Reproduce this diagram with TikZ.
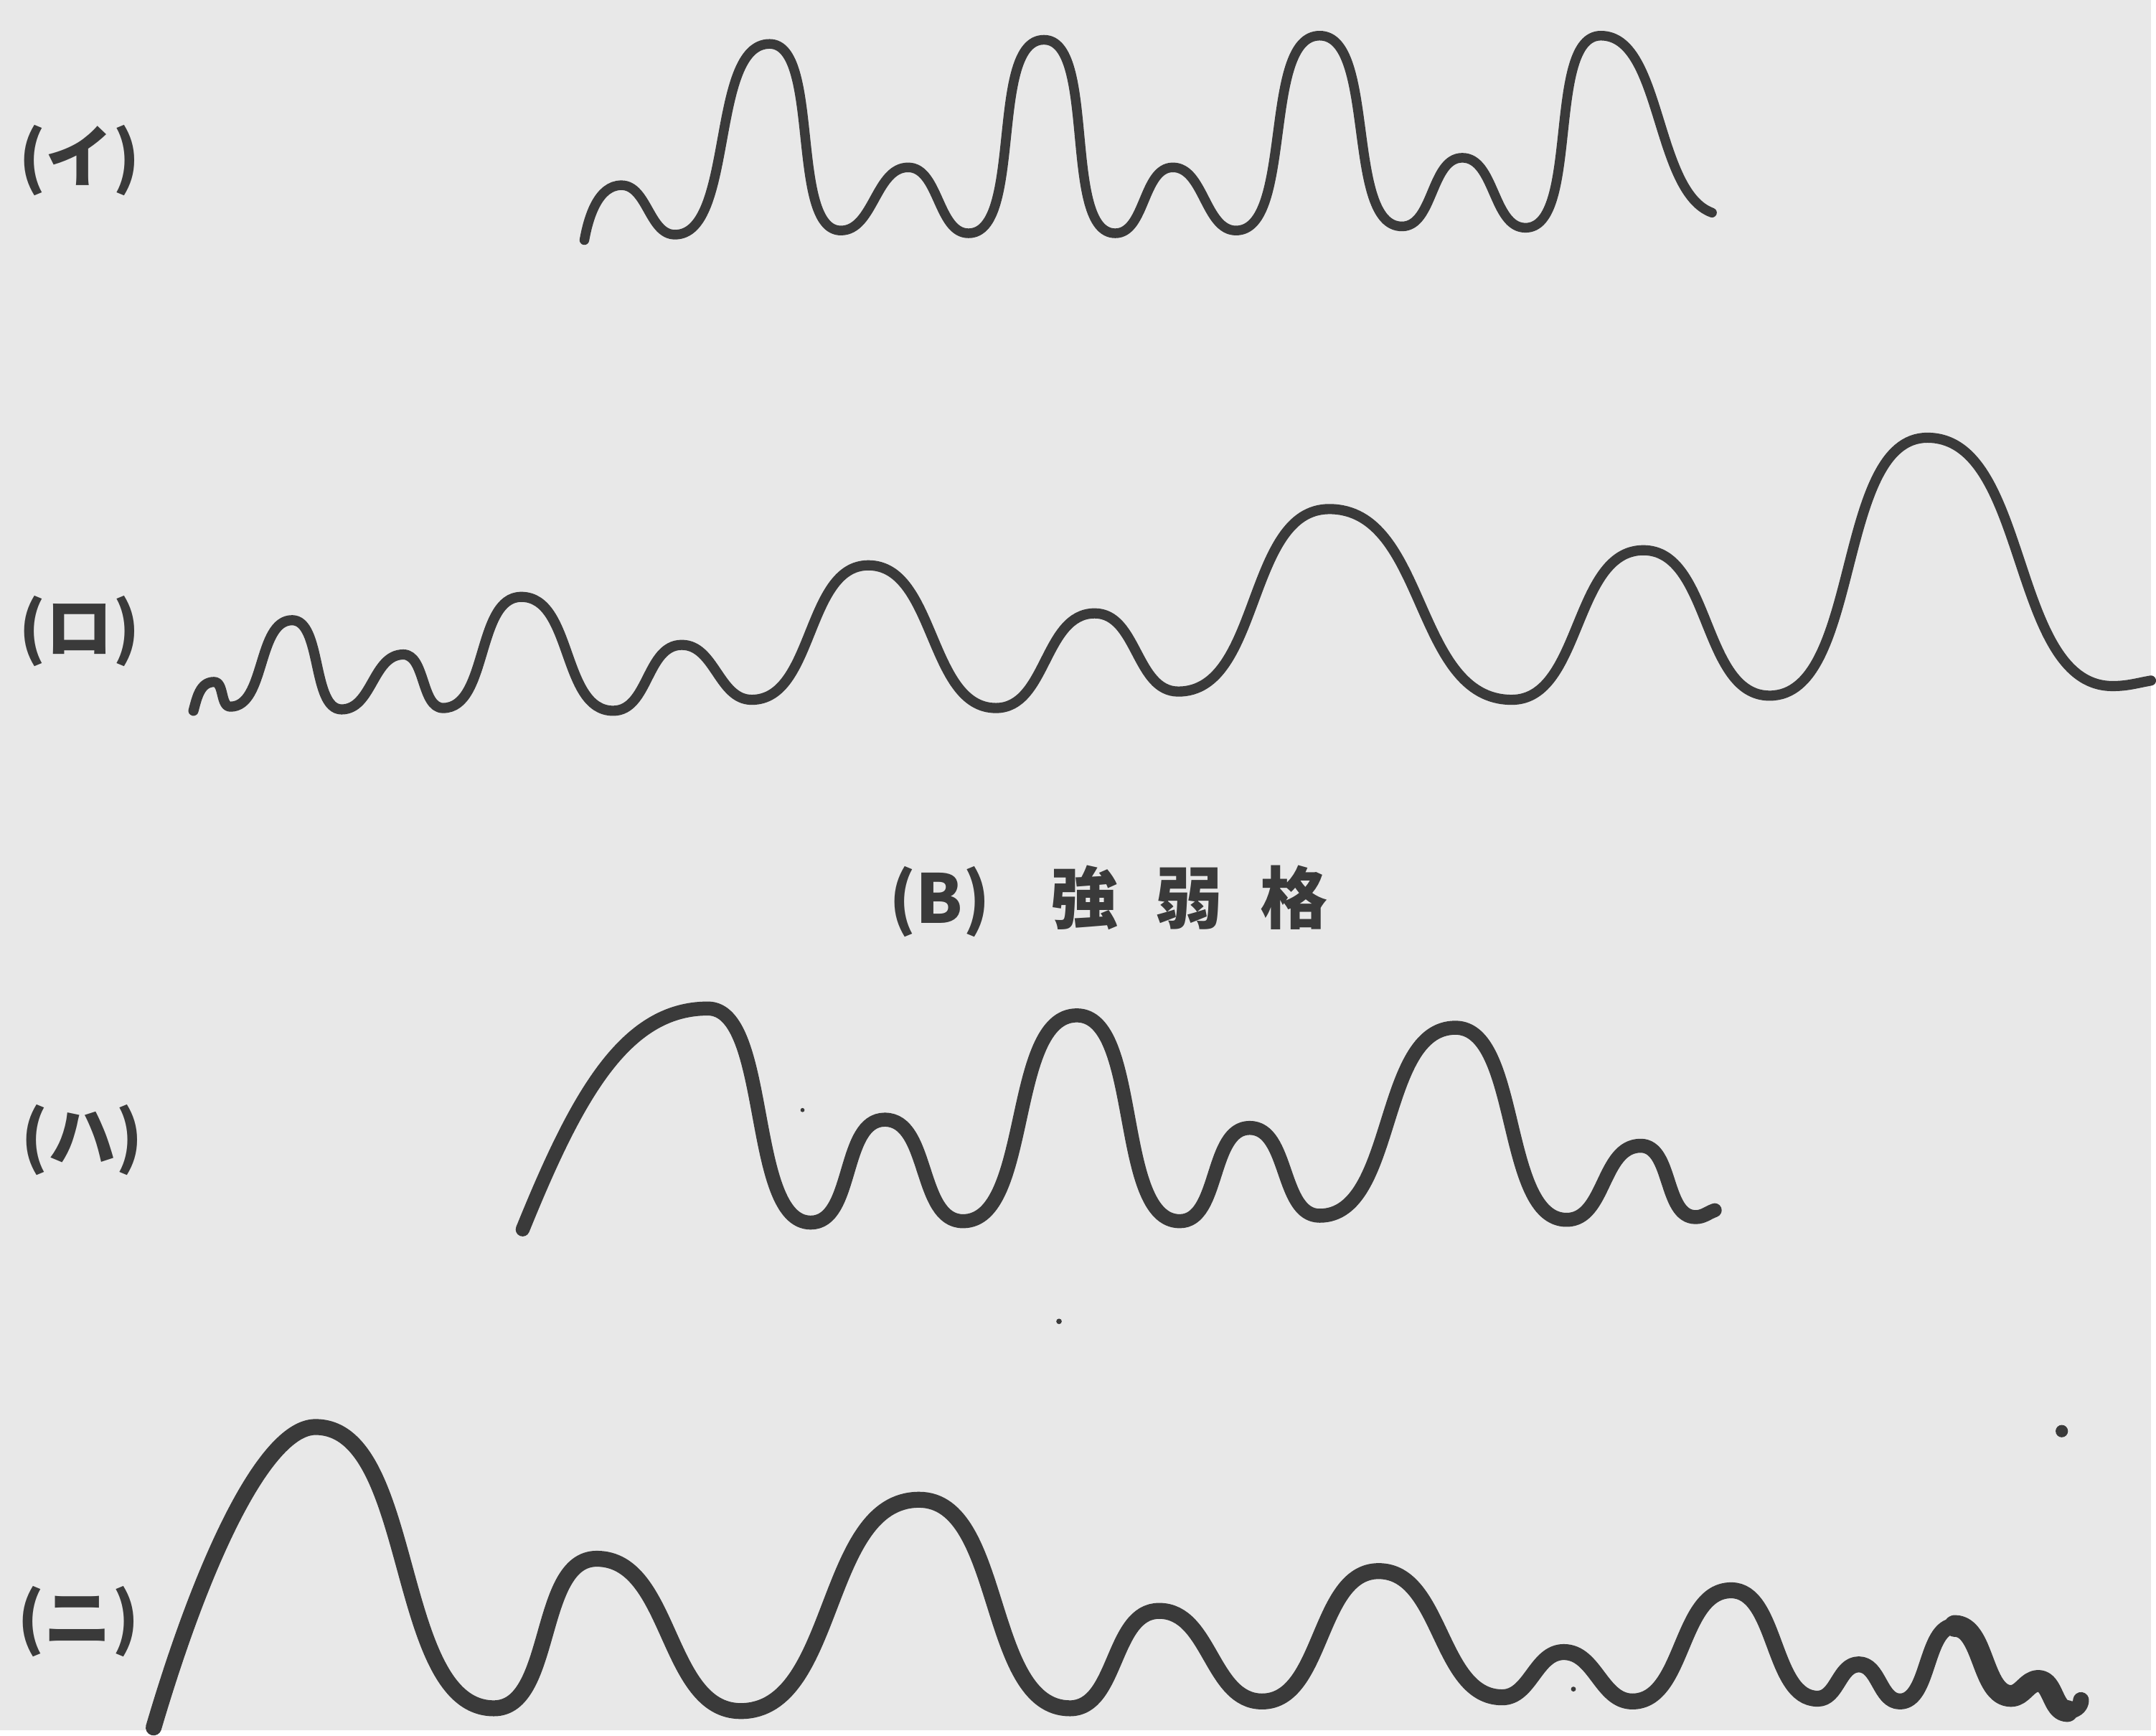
\documentclass[tikz,border=0pt]{standalone}
\usepackage{fontspec}
\newfontfamily\jpfont{Noto Sans CJK JP}
\definecolor{paper}{HTML}{E8E8E8}
\definecolor{ink}{HTML}{3A3A3A}

\begin{document}
\begin{tikzpicture}[x=0.01cm, y=-0.01cm,
    lbl/.style={text=ink, font=\jpfont\bfseries\fontsize{14pt}{16pt}\selectfont, inner sep=0pt},
    trace/.style={draw=ink, line cap=round, line join=round},
    hump/.style={out=0, in=180, looseness=#1}, hump/.default=0.9]
    \fill[paper] (0,0) rectangle (1568,1261);

    \node[lbl] (i)  at (58,117)  {(イ)};
    \node[lbl] (ro) at (58,460)  {(ロ)};
    \node[lbl] (ha) at (60,831)  {(ハ)};
    \node[lbl] (ni) at (57,1182) {(ニ)};
    \node[lbl] (title) at (808,657) {(B)\hspace{0.9em}強\hspace{0.55em}弱\hspace{0.55em}格};

    \draw[trace, line width=2pt] (426,175) to[out=80,in=180,looseness=0.9] (453,135)
      to[hump=0.9] (492,171) to[hump=0.72] (561,32) to[hump=0.66] (613,168) to[hump=0.9] (662,122)
      to[hump=0.88] (706,170) to[hump=0.68] (761,29) to[hump=0.66] (813,170) to[hump=0.88] (855,122)
      to[hump=0.88] (901,168) to[hump=0.7] (962,26) to[hump=0.7] (1022,165) to[hump=0.88] (1066,115)
      to[hump=0.88] (1112,166) to[hump=0.68] (1167,26) to[out=0,in=160,looseness=0.75] (1248,155);

    \draw[trace, line width=2.1pt] (141,518) to[out=75,in=180] (156,497)
      to[hump=0.9] (168,515) to[hump=0.85] (213,452) to[hump=0.75] (249,517) to[hump=0.95] (294,477)
      to[hump=0.85] (323,516) to[hump=0.85] (380,435) to[hump] (447,518) to[hump=0.95] (497,470)
      to[hump=0.95] (548,510) to[hump] (633,412) to[hump] (726,516) to[hump=0.95] (798,447)
      to[hump=0.95] (859,504) to[hump] (969,371) to[hump=0.95] (1102,510) to[hump] (1198,401)
      to[hump] (1290,507) to[hump=0.78] (1405,319) to[hump=0.85] (1540,500) to[out=0,in=190] (1568,496);

    \draw[trace, line width=2.9pt] (381,896) .. controls (420,800) and (455,735) .. (516,735)
      to[hump=0.68] (591,891) to[hump=0.88] (645,816) to[hump=0.9] (702,890) to[hump=0.75] (785,740)
      to[hump=0.72] (860,890) to[hump=0.88] (911,822) to[hump=0.9] (962,886) to[hump=0.85] (1061,749)
      to[hump=0.75] (1142,889) to[hump=0.95] (1196,835) to[hump=0.9] (1236,887) to[out=0,in=200] (1250,882);

    \draw[trace, line width=3.3pt] (112,1259) .. controls (150,1130) and (195,1040) .. (230,1040)
      to[hump=0.78] (360,1245) to[hump=0.85] (435,1136) to[hump=0.92] (540,1247) to[hump=0.9] (670,1093)
      to[hump=0.85] (780,1245) to[hump=0.92] (845,1174) to[hump=0.95] (920,1240) to[hump=0.9] (1005,1145)
      to[hump=0.92] (1095,1237) to[hump=0.95] (1140,1204) to[hump=0.95] (1190,1240) to[hump=0.9] (1262,1159)
      to[hump=0.85] (1325,1238) to[hump=0.95] (1355,1213) to[hump=0.95] (1385,1240) to[hump=0.82] (1425,1185)
      to[hump=0.85] (1466,1236) to[hump=0.95] (1486,1225) to[hump] (1507,1247) to[out=0,in=-90] (1517,1239);
    \draw[trace, line width=4.5pt] (1425,1185) to[hump=0.85] (1466,1236) to[hump=0.95] (1486,1225)
      to[hump] (1507,1247);

    \fill[ink] (1503,1043) circle (4.5);
    \fill[ink] (772,963) circle (2);
    \fill[ink] (585,809) circle (1.5);
    \fill[ink] (1147,1231) circle (1.8);
\end{tikzpicture}
\end{document}
